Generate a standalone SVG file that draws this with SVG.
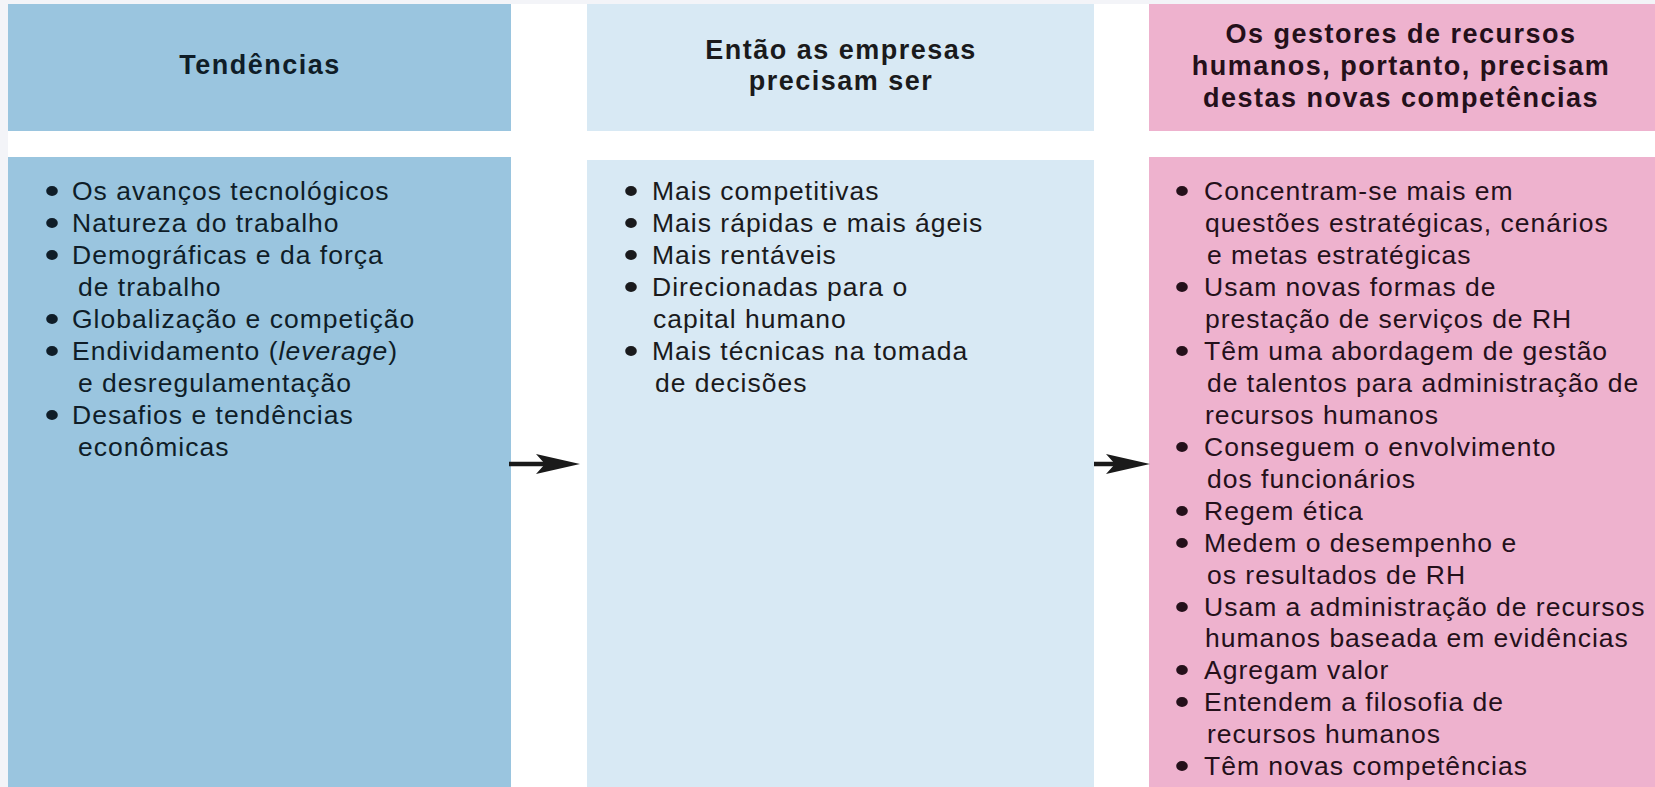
<svg xmlns="http://www.w3.org/2000/svg" width="1655" height="787" viewBox="0 0 1655 787">
<defs>
<style>
.hd{font-family:"Liberation Sans",Arial,sans-serif;font-weight:bold;font-size:27px;letter-spacing:1.5px;text-anchor:middle}
.bd{font-family:"Liberation Sans",Arial,sans-serif;font-size:26.5px;letter-spacing:1px}
.blue{fill:#9ac5df}
.lblue{fill:#d8e9f4}
.pink{fill:#eeb2ce}
.tl{fill:#0f1d28}
.tm{fill:#1a1a1c}
.tr{fill:#24101a}
.conn{stroke:#1a1a1a;stroke-width:4.5;fill:none}
</style>
<marker id="ah" viewBox="0 0 44 20" refX="24" refY="10" markerWidth="44" markerHeight="20" markerUnits="userSpaceOnUse" orient="auto">
<path d="M0,0 L44,10 L0,20 L9,10 Z" fill="#1a1a1a"/>
</marker>
</defs>
<rect x="0" y="0" width="1655" height="787" fill="#ffffff"/>
<rect x="0" y="0" width="1655" height="4" fill="#f3f4f8"/>
<rect x="0" y="0" width="8" height="787" fill="#f3f4f8"/>

<g id="tendencias-header">
<rect class="blue" x="8" y="4" width="503" height="127"/>
<text class="hd tl" x="260" y="74">Tendências</text>
</g>
<g id="tendencias-body">
<rect class="blue" x="8" y="157" width="503" height="630"/>
<g class="tl">
<ellipse cx="52" cy="191" rx="5.8" ry="5"/>
<ellipse cx="52" cy="223" rx="5.8" ry="5"/>
<ellipse cx="52" cy="255" rx="5.8" ry="5"/>
<ellipse cx="52" cy="319" rx="5.8" ry="5"/>
<ellipse cx="52" cy="351" rx="5.8" ry="5"/>
<ellipse cx="52" cy="415" rx="5.8" ry="5"/>
</g>
<text class="bd tl" x="72" y="200">Os avanços tecnológicos</text>
<text class="bd tl" x="72" y="232">Natureza do trabalho</text>
<text class="bd tl" x="72" y="264">Demográficas e da força</text>
<text class="bd tl" x="78" y="296">de trabalho</text>
<text class="bd tl" x="72" y="328">Globalização e competição</text>
<text class="bd tl" x="72" y="360">Endividamento (<tspan font-style="italic">leverage</tspan>)</text>
<text class="bd tl" x="78" y="392">e desregulamentação</text>
<text class="bd tl" x="72" y="424">Desafios e tendências</text>
<text class="bd tl" x="78" y="456">econômicas</text>
</g>

<g id="empresas-header">
<rect class="lblue" x="587" y="4" width="507" height="127"/>
<text class="hd tm" x="841" y="59">Então as empresas</text>
<text class="hd tm" x="841" y="90">precisam ser</text>
</g>
<g id="empresas-body">
<rect class="lblue" x="587" y="160" width="507" height="627"/>
<g class="tm">
<ellipse cx="631" cy="191" rx="5.8" ry="5"/>
<ellipse cx="631" cy="223" rx="5.8" ry="5"/>
<ellipse cx="631" cy="255" rx="5.8" ry="5"/>
<ellipse cx="631" cy="287" rx="5.8" ry="5"/>
<ellipse cx="631" cy="351" rx="5.8" ry="5"/>
</g>
<text class="bd tm" x="652" y="200">Mais competitivas</text>
<text class="bd tm" x="652" y="232">Mais rápidas e mais ágeis</text>
<text class="bd tm" x="652" y="264">Mais rentáveis</text>
<text class="bd tm" x="652" y="296">Direcionadas para o</text>
<text class="bd tm" x="653" y="328">capital humano</text>
<text class="bd tm" x="652" y="360">Mais técnicas na tomada</text>
<text class="bd tm" x="655" y="392">de decisões</text>
</g>

<g id="gestores-header">
<rect class="pink" x="1149" y="4" width="506" height="127"/>
<text class="hd tr" x="1401" y="43">Os gestores de recursos</text>
<text class="hd tr" x="1401" y="75">humanos, portanto, precisam</text>
<text class="hd tr" x="1401" y="107">destas novas competências</text>
</g>
<g id="gestores-body">
<rect class="pink" x="1149" y="157" width="506" height="630"/>
<g class="tr">
<ellipse cx="1182" cy="191" rx="5.8" ry="5"/>
<ellipse cx="1182" cy="287" rx="5.8" ry="5"/>
<ellipse cx="1182" cy="351" rx="5.8" ry="5"/>
<ellipse cx="1182" cy="447" rx="5.8" ry="5"/>
<ellipse cx="1182" cy="511" rx="5.8" ry="5"/>
<ellipse cx="1182" cy="543" rx="5.8" ry="5"/>
<ellipse cx="1182" cy="607" rx="5.8" ry="5"/>
<ellipse cx="1182" cy="670" rx="5.8" ry="5"/>
<ellipse cx="1182" cy="702" rx="5.8" ry="5"/>
<ellipse cx="1182" cy="766" rx="5.8" ry="5"/>
</g>
<text class="bd tr" x="1204" y="200">Concentram-se mais em</text>
<text class="bd tr" x="1205" y="232">questões estratégicas, cenários</text>
<text class="bd tr" x="1207" y="264">e metas estratégicas</text>
<text class="bd tr" x="1204" y="296">Usam novas formas de</text>
<text class="bd tr" x="1205" y="328">prestação de serviços de RH</text>
<text class="bd tr" x="1204" y="360">Têm uma abordagem de gestão</text>
<text class="bd tr" x="1207" y="392">de talentos para administração de</text>
<text class="bd tr" x="1205" y="424">recursos humanos</text>
<text class="bd tr" x="1204" y="456">Conseguem o envolvimento</text>
<text class="bd tr" x="1207" y="488">dos funcionários</text>
<text class="bd tr" x="1204" y="520">Regem ética</text>
<text class="bd tr" x="1204" y="552">Medem o desempenho e</text>
<text class="bd tr" x="1207" y="584">os resultados de RH</text>
<text class="bd tr" x="1204" y="616">Usam a administração de recursos</text>
<text class="bd tr" x="1205" y="647">humanos baseada em evidências</text>
<text class="bd tr" x="1204" y="679">Agregam valor</text>
<text class="bd tr" x="1204" y="711">Entendem a filosofia de</text>
<text class="bd tr" x="1207" y="743">recursos humanos</text>
<text class="bd tr" x="1204" y="775">Têm novas competências</text>
</g>

<g id="connectors">
<line class="conn" x1="509" y1="464" x2="560" y2="464" marker-end="url(#ah)"/>
<line class="conn" x1="1094" y1="464" x2="1130" y2="464" marker-end="url(#ah)"/>
</g>
</svg>
